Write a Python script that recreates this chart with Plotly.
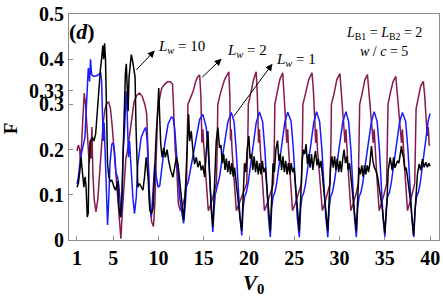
import plotly.graph_objects as go

# ---------------- data ----------------
# L_w = 2 (maroon)
lw2_points = [
    (1.0,.197),(1.15,.21),(1.3,.20),(1.4,.165),(1.55,.23),(1.7,.31),(1.8,.325),(1.95,.30),(2.1,.25),(2.25,.20),
    (2.35,.17),(2.45,.22),(2.55,.18),(2.65,.25),(2.75,.15),(2.9,.09),(3.1,.062),(3.3,.09),(3.5,.15),(3.7,.21),
    (3.9,.26),(4.1,.29),(4.3,.303),(4.5,.305),(4.7,.29),(4.9,.25),(5.1,.20),(5.3,.15),(5.5,.11),(5.7,.05),
    (5.85,.003),(6.0,.06),(6.2,.13),(6.4,.18),(6.6,.20),(6.8,.23),(7.0,.27),(7.3,.305),(7.6,.32),(7.9,.325),
    (8.2,.318),(8.5,.30),(8.7,.278),(8.85,.20),(9.05,.08),(9.25,.04),(9.45,.03),(9.6,.08),(9.75,.20),(9.9,.28),
    (10.1,.31),(10.35,.335),(10.7,.345),(11.0,.35),(11.3,.35),(11.55,.345),(11.65,.30),(11.75,.22),(11.85,.20),
    (12.0,.168),(12.1,.12),(12.2,.08),(12.4,.066),(12.6,.07),(12.9,.095),(13.1,.13),(13.18,.22),(13.25,.30),
    (13.55,.315),(13.85,.33),(14.1,.35),(14.3,.36),(14.55,.365),
    (14.68,.32),(14.8,.215),(14.9,.245),(15.0,.21),(15.25,.14),(15.5,.065),(15.8,.08),(16.1,.10),(16.4,.125),
    (16.5,.22),(16.55,.30),(16.85,.325),(17.3,.355),(17.77,.372),
    (17.88,.32),(17.96,.22),(18.04,.245),(18.12,.20),(18.35,.13),(18.6,.065),(18.9,.08),(19.3,.10),(19.75,.125),
    (19.87,.22),(19.92,.30),(20.2,.325),(20.5,.355),(20.79,.372),
    (20.92,.32),(21.05,.215),(21.15,.245),(21.25,.20),(21.45,.13),(21.7,.065),(22.0,.08),(22.35,.10),(22.7,.125),
    (22.8,.22),(22.85,.30),(23.1,.325),(23.4,.355),(23.72,.37),
    (23.87,.33),(24.02,.27),(24.17,.215),(24.27,.245),(24.37,.20),(24.55,.14),(24.8,.065),(25.1,.08),(25.45,.10),
    (25.8,.125),(25.9,.22),(25.95,.30),(26.25,.325),(26.6,.355),(26.96,.37),
    (27.11,.33),(27.25,.27),(27.36,.215),(27.46,.245),(27.56,.20),(27.8,.14),(28.1,.065),(28.35,.08),(28.65,.10),
    (28.95,.125),(29.05,.22),(29.1,.30),(29.4,.325),(29.7,.355),(30.04,.368),
    (30.19,.33),(30.35,.28),(30.6,.215),(30.7,.245),(30.8,.20),(31.0,.14),(31.25,.065),(31.5,.08),(31.8,.10),
    (32.07,.125),(32.17,.22),(32.22,.30),(32.5,.325),(32.8,.355),(33.08,.366),
    (33.23,.33),(33.4,.28),(33.72,.215),(33.82,.245),(33.92,.20),(34.12,.14),(34.37,.065),(34.6,.08),(34.9,.10),
    (35.2,.125),(35.3,.22),(35.35,.30),(35.6,.325),(35.9,.35),(36.21,.362),
    (36.36,.325),(36.52,.28),(36.84,.215),(36.94,.245),(37.04,.20),(37.25,.14),(37.5,.065),(37.75,.08),(38.0,.10),
    (38.3,.125),(38.4,.21),(38.45,.29),(38.7,.315),(38.95,.34),(39.25,.351),
    (39.4,.32),(39.55,.27),(39.7,.23),(39.8,.25),(39.9,.21),(40.0,.21),
]

# L_w = 1 (blue)
lw1_points = [
    (1.0,.124),(1.15,.139),(1.4,.183),(1.66,.204),(1.88,.227),(2.05,.30),(2.14,.358),(2.25,.38),(2.32,.372),
    (2.39,.351),(2.5,.40),(2.61,.366),(2.87,.362),(3.24,.364),(3.5,.368),(3.61,.371),(3.72,.351),(3.79,.314),
    (3.9,.219),(4.0,.26),(4.08,.20),(4.16,.154),(4.27,.095),(4.38,.033),(4.52,.095),(4.65,.17),(4.85,.212),
    (5.0,.215),(5.14,.197),(5.3,.15),(5.48,.139),(5.63,.12),(5.75,.09),(5.88,.051),(6.0,.10),(6.1,.20),
    (6.25,.241),(6.43,.329),(6.55,.28),(6.69,.183),(6.8,.219),(6.98,.154),(7.17,.095),(7.35,.058),(7.55,.095),
    (7.72,.168),(7.9,.20),(8.09,.227),(8.46,.245),(8.6,.249),(8.75,.22),(8.9,.15),(9.04,.08),(9.22,.051),
    (9.4,.12),(9.59,.168),(9.77,.139),(9.96,.117),(10.14,.12),(10.32,.146),(10.5,.18),(10.69,.212),(11.06,.256),
    (11.42,.272),(11.6,.271),(11.8,.245),(11.98,.197),(12.16,.139),(12.34,.095),(12.53,.066),(12.78,.037),
    (12.97,.08),(13.08,.117),(13.3,.13),(13.44,.146),(13.81,.183),(14.18,.234),(14.55,.267),(14.9,.278),
    (15.28,.249),(15.53,.183),(15.75,.095),(16.0,.018),
    (16.15,.07),(16.27,.10),(16.5,.12),(16.74,.139),(17.0,.175),(17.3,.215),(17.65,.26),(18.04,.282),
    (18.35,.262),(18.58,.20),(18.8,.12),(19.0,.05),(19.2,.01),
    (19.35,.07),(19.5,.095),(19.7,.105),(19.9,.125),(20.2,.17),(20.5,.22),(20.8,.26),(21.15,.283),
    (21.5,.262),(21.75,.20),(21.95,.12),(22.15,.05),(22.35,.007),
    (22.5,.07),(22.65,.095),(22.85,.105),(23.05,.125),(23.35,.17),(23.65,.22),(23.95,.26),(24.27,.283),
    (24.65,.262),(24.9,.20),(25.1,.12),(25.33,.05),(25.55,.006),
    (25.7,.07),(25.85,.095),(26.05,.105),(26.25,.125),(26.55,.17),(26.85,.22),(27.15,.26),(27.46,.284),
    (27.8,.262),(28.05,.20),(28.25,.12),(28.48,.05),(28.7,.006),
    (28.85,.07),(29.0,.095),(29.2,.105),(29.4,.125),(29.7,.17),(30.0,.22),(30.35,.26),(30.7,.284),
    (31.0,.262),(31.25,.20),(31.45,.12),(31.65,.05),(31.85,.006),
    (32.0,.07),(32.15,.095),(32.35,.105),(32.55,.125),(32.85,.17),(33.15,.22),(33.5,.26),(33.82,.284),
    (34.15,.262),(34.4,.20),(34.6,.12),(34.8,.05),(35.0,.006),
    (35.15,.07),(35.3,.095),(35.5,.105),(35.7,.125),(36.0,.17),(36.3,.22),(36.62,.26),(36.94,.282),
    (37.3,.262),(37.55,.20),(37.75,.12),(37.98,.05),(38.2,.006),
    (38.35,.07),(38.5,.095),(38.7,.105),(38.9,.125),(39.2,.17),(39.5,.22),(39.8,.265),(40.0,.28),
]

# L_w = 10 (black)
lw10_points = [
    (1.0,.117),(1.15,.125),(1.3,.15),(1.45,.183),(1.6,.15),(1.77,.117),(1.9,.14),(2.0,.12),(2.14,.051),
    (2.25,.06),(2.32,.168),(2.5,.219),(2.7,.227),(2.87,.219),(3.06,.234),(3.24,.285),(3.43,.343),(3.6,.38),
    (3.72,.40),(3.85,.43),(3.95,.40),(4.05,.435),(4.15,.40),(4.23,.314),(4.38,.168),(4.52,.139),(4.7,.13),
    (4.85,.132),(5.0,.12),(5.1,.117),(5.26,.11),(5.4,.125),(5.5,.13),(5.63,.073),(5.8,.05),(5.95,.09),
    (6.06,.16),(6.2,.30),(6.35,.37),(6.45,.39),(6.55,.32),(6.65,.285),(6.75,.36),(6.9,.40),(7.0,.41),
    (7.15,.395),(7.3,.38),(7.42,.36),(7.52,.25),(7.62,.16),(7.72,.117),(7.9,.125),(8.09,.117),(8.28,.11),
    (8.46,.139),(8.64,.183),(8.75,.16),(8.85,.14),(9.04,.066),(9.22,.058),(9.4,.07),(9.59,.183),(9.77,.241),
    (9.9,.28),(10.03,.336),(10.14,.27),(10.25,.212),(10.4,.183),(10.58,.204),(10.76,.183),(10.95,.20),
    (11.13,.175),(11.35,.154),(11.6,.139),(11.8,.16),(11.98,.183),(12.16,.168),(12.35,.13),(12.53,.095),
    (12.78,.044),(12.97,.11),(13.15,.219),(13.33,.278),(13.44,.219),(13.62,.241),(13.81,.197),(13.99,.168),
    (14.18,.183),(14.36,.161),(14.55,.175),(14.73,.154),(14.9,.165),(15.1,.139),(15.28,.197),(15.46,.241),
    (15.6,.17),(15.83,.066),(16.01,.029),(16.2,.12),(16.38,.219),(16.56,.249),(16.74,.204),(16.9,.21),
    (17.05,.17),(17.2,.19),(17.35,.155),(17.5,.18),(17.65,.15),(17.8,.175),(17.95,.145),(18.1,.17),
    (18.25,.14),(18.4,.16),(18.6,.12),(18.8,.09),(19.0,.05),(19.2,.02),
    (19.35,.09),(19.5,.17),(19.65,.15),(19.8,.20),(19.98,.23),(20.12,.18),(20.28,.19),(20.42,.155),
    (20.57,.185),(20.72,.15),(20.87,.175),(21.02,.145),(21.17,.17),(21.32,.145),(21.47,.175),(21.62,.15),
    (21.8,.16),(21.95,.12),(22.15,.06),(22.35,.02),
    (22.5,.09),(22.65,.17),(22.8,.15),(22.97,.20),(23.15,.22),(23.3,.175),(23.45,.19),(23.6,.155),
    (23.75,.185),(23.9,.15),(24.05,.175),(24.2,.145),(24.35,.17),(24.5,.145),(24.65,.17),(24.8,.15),
    (24.97,.16),(25.12,.12),(25.33,.06),(25.55,.02),
    (25.7,.09),(25.85,.17),(26.0,.20),(26.15,.19),(26.3,.212),(26.45,.168),(26.6,.19),(26.75,.16),
    (26.9,.19),(27.05,.155),(27.2,.18),(27.35,.197),(27.5,.165),(27.65,.18),(27.8,.16),(27.95,.175),
    (28.12,.14),(28.3,.10),(28.5,.05),(28.7,.02),
    (28.85,.09),(29.0,.16),(29.15,.185),(29.3,.16),(29.45,.185),(29.6,.155),(29.75,.18),(29.9,.15),
    (30.05,.175),(30.2,.15),(30.35,.18),(30.5,.20),(30.65,.17),(30.8,.185),(30.95,.155),(31.1,.17),
    (31.25,.14),(31.45,.10),(31.65,.05),(31.85,.02),
    (32.0,.09),(32.15,.16),(32.3,.145),(32.45,.165),(32.6,.14),(32.75,.165),(32.9,.145),(33.05,.165),
    (33.2,.15),(33.35,.17),(33.52,.208),(33.68,.175),(33.85,.16),(34.0,.154),(34.2,.14),(34.37,.117),
    (34.55,.09),(34.74,.066),(35.0,.015),
    (35.22,.08),(35.37,.154),(35.59,.183),(35.81,.154),(35.96,.183),(36.1,.16),(36.22,.165),(36.4,.175),
    (36.55,.17),(36.7,.197),(36.84,.208),(36.95,.19),(37.06,.183),(37.21,.154),(37.35,.16),(37.5,.139),
    (37.7,.11),(37.87,.08),(38.16,.01),
    (38.42,.08),(38.6,.146),(38.79,.168),(38.97,.154),(39.15,.179),(39.34,.161),(39.52,.172),(39.7,.161),
    (39.85,.17),(40.0,.163),
]

x_tickvals = [1, 5, 10, 15, 20, 25, 30, 35, 40]
x_ticktext = ["1", "5", "10", "15", "20", "25", "30", "35", "40"]
y_tickvals = [0, 0.1, 0.2, 0.3, 0.33, 0.4, 0.5]
y_ticktext = ["0", "0.1", "0.2", "0.3", "0.33", "0.4", "0.5"]

# ---------------- figure ----------------
SERIF = "Liberation Serif"
fig = go.Figure()

def add_series(points, color):
    xs = [p[0] for p in points]
    ys = [p[1] for p in points]
    fig.add_trace(go.Scatter(x=xs, y=ys, mode="lines",
                             line=dict(color=color, width=1.5),
                             hoverinfo="skip", showlegend=False))

add_series(lw2_points, "#861a4e")
add_series(lw1_points, "#1a1aff")
add_series(lw10_points, "#000000")

axis_common = dict(
    showgrid=False, zeroline=False, showline=True, linecolor="#8c8c8c", linewidth=1,
    mirror=True, ticks="inside", ticklen=4, tickcolor="#8c8c8c",
    ticklabeloverflow="allow",
    tickfont=dict(family=SERIF, size=20, color="black", weight="bold"),
)
fig.update_xaxes(range=[0.12, 40.98], tickmode="array", tickvals=x_tickvals,
                 ticktext=x_ticktext, **axis_common)
fig.update_yaxes(range=[0, 0.5], tickmode="array", tickvals=y_tickvals,
                 ticktext=y_ticktext, **axis_common)

annotations = []
# arrows: head near label, tail on curve
arrows = [
    (9.59, 0.419, 7.39, 0.373),
    (16.97, 0.401, 14.66, 0.357),
    (22.59, 0.39, 18.18, 0.27),
]
for hx, hy, tx, ty in arrows:
    annotations.append(dict(x=hx, y=hy, ax=tx, ay=ty, xref="x", yref="y", axref="x", ayref="y",
                            text="", showarrow=True, arrowhead=2, arrowsize=1.4,
                            arrowwidth=1, arrowcolor="black", standoff=0, startstandoff=0))

label_font = dict(family=SERIF, size=15, color="black")
labels = [
    (9.75, 0.428, "<i>L</i><sub><i>w</i></sub> = 10"),
    (17.35, 0.419, "<i>L</i><sub><i>w</i></sub> = 2"),
    (22.75, 0.399, "<i>L</i><sub><i>w</i></sub> = 1"),
]
for lx, ly, t in labels:
    annotations.append(dict(x=lx, y=ly, xref="x", yref="y", text=t, showarrow=False,
                            xanchor="left", yanchor="middle", font=label_font))

annotations.append(dict(x=34.92, y=0.456, xref="x", yref="y", showarrow=False,
                        text="<i>L</i><sub>B1</sub> = <i>L</i><sub>B2</sub> = 2",
                        xanchor="center", yanchor="middle",
                        font=dict(family=SERIF, size=14, color="black")))
annotations.append(dict(x=34.92, y=0.417, xref="x", yref="y", showarrow=False,
                        text="<i>w</i> / <i>c</i> = 5",
                        xanchor="center", yanchor="middle",
                        font=dict(family=SERIF, size=14, color="black")))
annotations.append(dict(x=1.55, y=0.462, xref="x", yref="y", showarrow=False,
                        text="<b>(<i>d</i>)</b>", xanchor="center", yanchor="middle",
                        font=dict(family=SERIF, size=22, color="black")))
# axis titles
annotations.append(dict(x=-0.156, y=0.496, xref="paper", yref="paper", showarrow=False,
                        text="<b>F</b>", textangle=-90, xanchor="center", yanchor="middle",
                        font=dict(family=SERIF, size=19, color="black")))
annotations.append(dict(x=0.499, y=-0.262, xref="paper", yref="paper", showarrow=False,
                        text="<b><i>V</i><sub>0</sub></b>", xanchor="center", yanchor="bottom",
                        font=dict(family=SERIF, size=21, color="black")))

fig.update_layout(
    width=443, height=302,
    margin=dict(l=69, r=3, t=12, b=62),
    plot_bgcolor="white", paper_bgcolor="white",
    showlegend=False, annotations=annotations,
)

fig.write_html("out.html", config={"displayModeBar": False},
               post_script="document.body.style.margin='0';")
